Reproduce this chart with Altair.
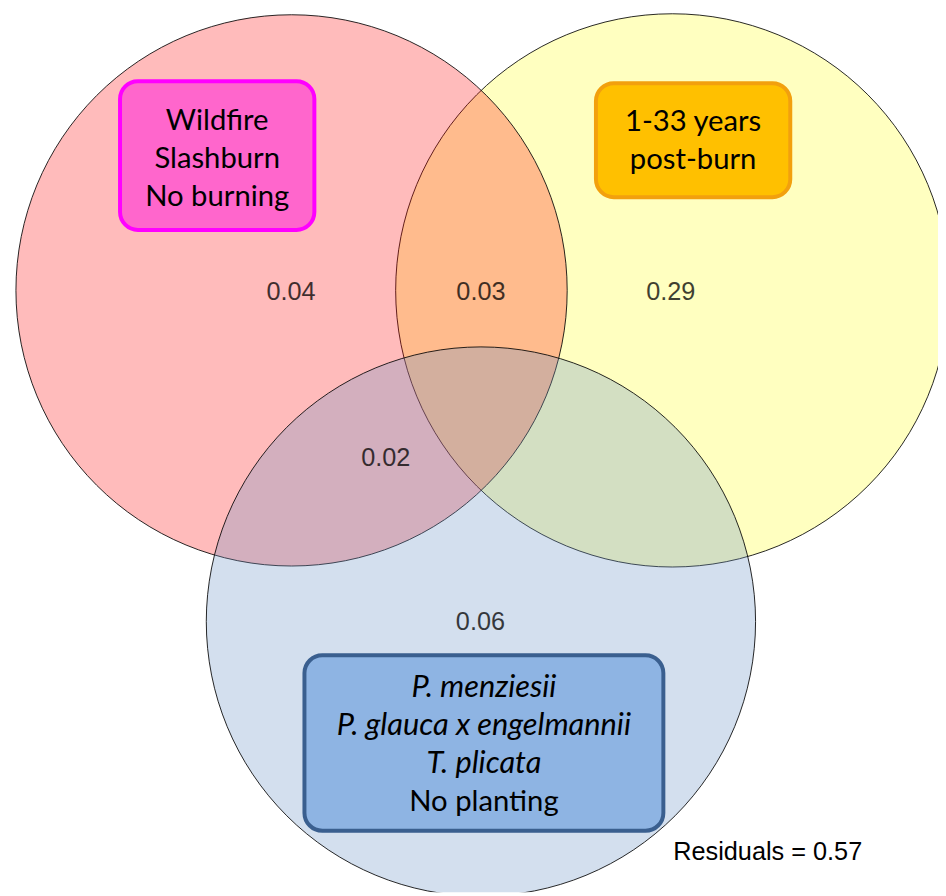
import altair as alt
import pandas as pd

# ---- Venn layout (units = pixels of the original figure) ----
# draw order: time-since-burn (yellow), burning (red), planting (blue)
circle_names = ["1-33 years post-burn", "Burning", "Planting"]
circle_x = [678, 294, 485]
circle_y = [289, 289, 623]
circle_r = [279, 278, 277]
circle_fill = ["#FFFFC0", "#FF0000", "#6C94C6"]
circle_alpha = [1.0, 0.265, 0.30]

# ---- region quantities ----
region_text = ["0.04", "0.03", "0.29", "0.02", "0.06"]
region_x = [293.5, 485, 676.5, 389, 484.5]
region_y = [299, 299, 299, 466, 632]

# ---- label boxes ----
box_x1 = [121, 601, 307]
box_x2 = [317, 797, 669]
box_y1 = [78, 80, 657]
box_y2 = [228, 195, 834]
box_fill = ["#FF66CC", "#FFC000", "#8EB4E3"]
box_stroke = ["#FF00FF", "#F2A00E", "#3A5F8F"]

# ---- box text lines ----
line_text = ["Wildfire", "Slashburn", "No burning",
             "1-33 years", "post-burn",
             "P. menziesii", "P. glauca x engelmannii", "T. plicata", "No planting"]
line_x = [219, 219, 219, 699, 699, 488, 488, 488, 488]
line_y = [127, 166, 204, 128, 167, 699, 737, 776, 814]
line_italic = [False, False, False, False, False, True, True, True, False]

residual_text = ["Residuals = 0.57"]
residual_x = [679]
residual_y = [864]

W, H = 938, 888
xs = alt.Scale(domain=[8, 8 + W])
ys = alt.Scale(domain=[8, 8 + H], reverse=True)

circles = pd.DataFrame({
    "name": circle_names, "x": circle_x, "y": circle_y, "r": circle_r,
    "fill": circle_fill, "alpha": circle_alpha,
})
circles["size"] = 4 * circles["r"] ** 2
circles["order"] = range(len(circles))

regions = pd.DataFrame({"t": region_text, "x": region_x, "y": region_y})
boxes = pd.DataFrame({"x1": box_x1, "x2": box_x2, "y1": box_y1, "y2": box_y2,
                      "fill": box_fill, "stroke": box_stroke})
lines = pd.DataFrame({"t": line_text, "x": line_x, "y": line_y, "it": line_italic})
resid = pd.DataFrame({"t": residual_text, "x": residual_x, "y": residual_y})

X = lambda f="x": alt.X(f"{f}:Q", scale=xs, axis=None)
Y = lambda f="y": alt.Y(f"{f}:Q", scale=ys, axis=None)

circle_layer = alt.Chart(circles).mark_circle(
    opacity=1, stroke="black", strokeWidth=1, strokeOpacity=0.85, clip=True
).encode(
    x=X(), y=Y(),
    size=alt.Size("size:Q", scale=None, legend=None),
    fill=alt.Fill("fill:N", scale=None, legend=None),
    fillOpacity=alt.FillOpacity("alpha:Q", scale=None, legend=None),
    order=alt.Order("order:Q"),
)

region_layer = alt.Chart(regions).mark_text(
    font="Liberation Sans", fontSize=25.5, baseline="alphabetic", align="center",
    color="black", opacity=0.75
).encode(x=X(), y=Y(), text="t:N")

box_layer = alt.Chart(boxes).mark_rect(cornerRadius=18, strokeWidth=4).encode(
    x=X("x1"), x2="x2", y=Y("y1"), y2="y2",
    fill=alt.Fill("fill:N", scale=None, legend=None),
    stroke=alt.Stroke("stroke:N", scale=None, legend=None),
)

line_normal = alt.Chart(lines).transform_filter("!datum.it").mark_text(
    font="Lato", fontSize=29.5, baseline="alphabetic", align="center", color="black"
).encode(x=X(), y=Y(), text="t:N")

line_italic_layer = alt.Chart(lines).transform_filter("datum.it").mark_text(
    font="Lato", fontSize=31, fontStyle="italic", baseline="alphabetic",
    align="center", color="black"
).encode(x=X(), y=Y(), text="t:N")

resid_layer = alt.Chart(resid).mark_text(
    font="Liberation Sans", fontSize=25.5, baseline="alphabetic", align="left",
    color="black"
).encode(x=X(), y=Y(), text="t:N")

chart = alt.layer(
    circle_layer, region_layer, box_layer, line_normal, line_italic_layer, resid_layer
).properties(
    width=W, height=H, padding=0,
    autosize=alt.AutoSizeParams(type="none"),
).configure_view(stroke=None)

chart.save("out.html", embed_options={"renderer": "svg", "actions": False})
